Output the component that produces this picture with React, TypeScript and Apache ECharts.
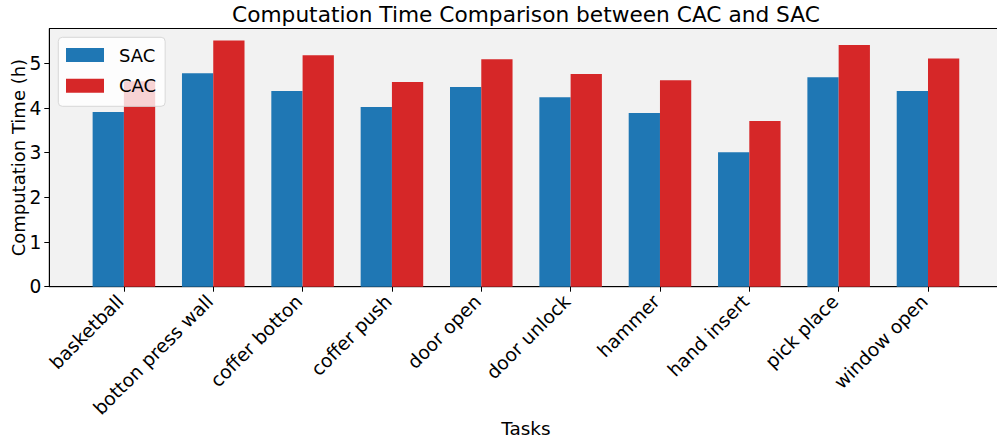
import React, { useEffect, useRef } from "react";
import * as echarts from "echarts";

const tasks = [
  "basketball",
  "botton press wall",
  "coffer botton",
  "coffer push",
  "door open",
  "door unlock",
  "hammer",
  "hand insert",
  "pick place",
  "window open",
];
const sacValues = [3.91, 4.78, 4.38, 4.02, 4.47, 4.24, 3.89, 3.01, 4.69, 4.38];
const cacValues = [4.6, 5.51, 5.18, 4.58, 5.09, 4.76, 4.62, 3.71, 5.41, 5.11];
const yTicks = [0, 1, 2, 3, 4, 5];

const FONT = "DejaVu Sans";
const BAR_W = 0.35;
const X_MIN = -0.835;
const X_MAX = 9.835;
const GRID_LEFT = 49.3;
const GRID_RIGHT = -5.6;
const W = 997;
const H = 442;

export default function App() {
  const ref = useRef<HTMLDivElement>(null);
  useEffect(() => {
    document.body.style.margin = "0";
    document.body.style.overflow = "hidden";
    document.documentElement.style.overflow = "hidden";
    const chart = echarts.init(ref.current!, null, { renderer: "svg" });
    const gridWidth = W - GRID_LEFT - GRID_RIGHT;
    const pxPerUnit = gridWidth / (X_MAX - X_MIN);
    const barPx = BAR_W * pxPerUnit;
    const idx = tasks.map((_, i) => i);
    chart.setOption({
      animation: false,
      textStyle: { fontFamily: FONT },
      graphic: [
        {
          type: "text",
          x: GRID_LEFT + gridWidth / 2,
          y: 14,
          z: 100,
          style: {
            text: "Computation Time Comparison between CAC and SAC",
            font: `21.7px "${FONT}"`,
            fill: "#000",
            textAlign: "center",
            textVerticalAlign: "middle",
          },
        },
      ],
      legend: {
        left: 58.3,
        top: 37.3,
        orient: "vertical",
        icon: "rect",
        itemWidth: 38,
        itemHeight: 14,
        itemGap: 12.7,
        itemStyle: { borderWidth: 0 },
        textStyle: {
          fontSize: 18,
          lineHeight: 14,
          color: "#000",
          fontFamily: FONT,
          padding: [0, 0, 0, 10],
        },
        backgroundColor: "rgba(255,255,255,0.8)",
        borderColor: "#d8d8d8",
        borderWidth: 1,
        borderRadius: 4,
        padding: [8.7, 9, 11.6, 7.7],
        z: 10,
      },
      grid: {
        left: GRID_LEFT,
        right: GRID_RIGHT,
        top: 28.5,
        bottom: 155.3,
        containLabel: false,
        outerBoundsMode: "none",
        show: true,
        backgroundColor: "#f2f2f2",
        borderColor: "#000",
        borderWidth: 1,
      },
      xAxis: {
        type: "value",
        min: X_MIN,
        max: X_MAX,
        name: "Tasks",
        nameLocation: "middle",
        nameGap: 133,
        nameMoveOverlap: false,
        nameTextStyle: { fontSize: 18.4, color: "#000", fontFamily: FONT },
        axisLine: { show: true, onZero: false, lineStyle: { color: "#000", width: 1 } },
        axisTick: {
          show: true,
          length: 5,
          lineStyle: { color: "#000" },
          customValues: idx,
        },
        axisLabel: {
          customValues: idx,
          rotate: 45,
          margin: 8,
          padding: [0, 5, 0, 0],
          fontSize: 18.67,
          color: "#000",
          fontFamily: FONT,
          formatter: (v: number) => tasks[Math.round(v)] ?? "",
        },
        splitLine: { show: false },
      },
      yAxis: {
        type: "value",
        min: 0,
        max: 5.78,
        interval: 1,
        name: "Computation Time (h)",
        nameLocation: "middle",
        nameGap: 22,
        nameMoveOverlap: false,
        nameTextStyle: { fontSize: 18, color: "#000", fontFamily: FONT },
        axisLine: { show: true, onZero: false, lineStyle: { color: "#000", width: 1 } },
        axisTick: {
          show: true,
          length: 5,
          lineStyle: { color: "#000" },
          customValues: yTicks,
        },
        axisLabel: {
          customValues: yTicks,
          margin: 8,
          fontSize: 18.67,
          color: "#000",
          fontFamily: FONT,
        },
        splitLine: { show: false },
      },
      series: [
        {
          name: "SAC",
          type: "bar",
          barWidth: barPx,
          barGap: "-100%",
          itemStyle: { color: "#1f77b4" },
          data: sacValues.map((v, i) => [i - BAR_W / 2, v]),
        },
        {
          name: "CAC",
          type: "bar",
          barWidth: barPx,
          barGap: "-100%",
          itemStyle: { color: "#d62728" },
          data: cacValues.map((v, i) => [i + BAR_W / 2, v]),
        },
      ],
    });
    return () => chart.dispose();
  }, []);
  return <div ref={ref} style={{ width: W, height: H }} />;
}
